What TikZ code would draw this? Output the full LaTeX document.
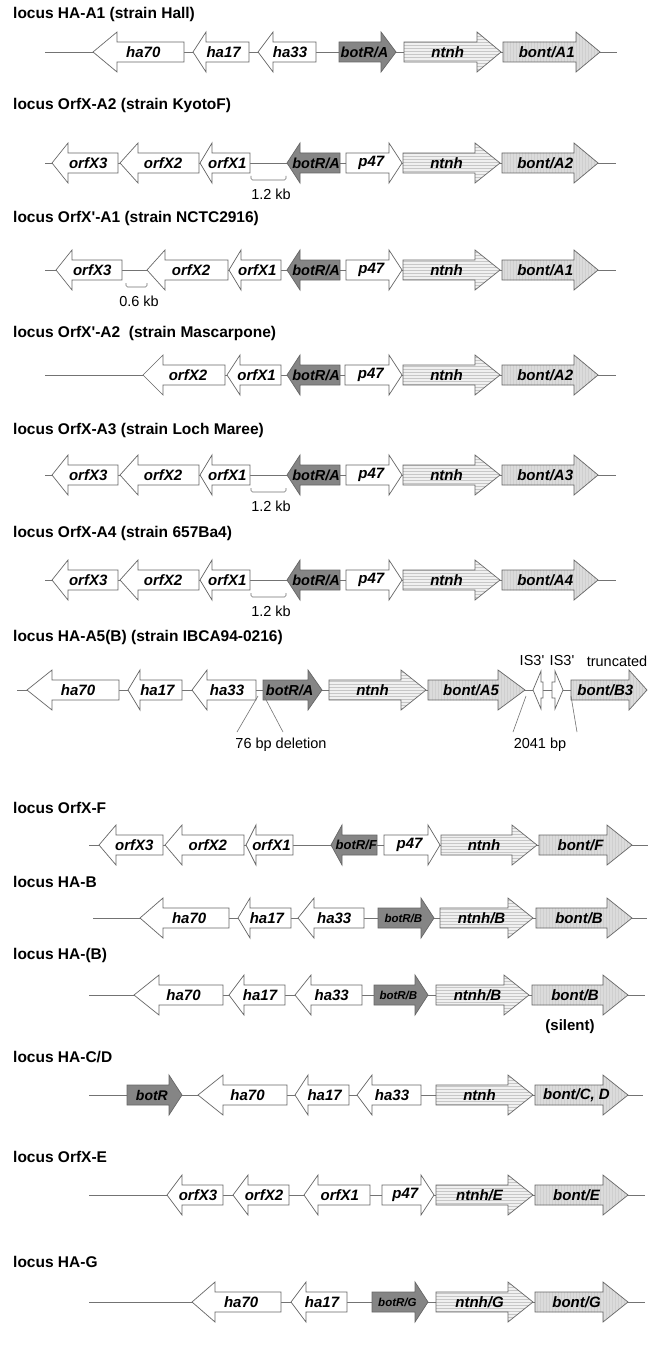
\documentclass[tikz,border=0pt]{standalone}
\usepackage{fontspec}
\setmainfont{Liberation Sans}
\usetikzlibrary{patterns}

\tikzset{
  gene/.style={draw=black!60, line width=0.7pt, fill=white},
  regul/.style={fill=black!48},
  ntnhbox/.style={preaction={fill=black!6}, pattern=horizontal lines, pattern color=black!22},
  bontbox/.style={preaction={fill=black!14}, pattern=vertical lines, pattern color=black!19},
  genelabel/.style={font=\fontsize{15}{18}\selectfont\bfseries\itshape, inner sep=0pt},
  locus/.style={font=\fontsize{15.5}{18}\selectfont\bfseries, anchor=west, inner sep=0pt},
  note/.style={font=\fontsize{14.5}{17}\selectfont, inner sep=0pt},
  backbone/.style={draw=black!55, line width=0.8pt},
}

% gene pointing right: name, x start, x tip, y, head length, style, label
\newcommand{\gener}[7]{%
  \draw[gene,#6] (#2,#4-10) -- ({#3-#5},#4-10) -- ({#3-#5},#4-20) -- (#3,#4)
    -- ({#3-#5},#4+20) -- ({#3-#5},#4+10) -- (#2,#4+10) -- cycle;
  \node[genelabel] (#1) at ({(#2+#3)/2-0.2*#5},#4) {#7};}
% gene pointing left: name, x tip, x end, y, head length, style, label
\newcommand{\genel}[7]{%
  \draw[gene,#6] (#3,#4-10) -- ({#2+#5},#4-10) -- ({#2+#5},#4-20) -- (#2,#4)
    -- ({#2+#5},#4+20) -- ({#2+#5},#4+10) -- (#3,#4+10) -- cycle;
  \node[genelabel] (#1) at ({(#2+#3)/2+0.2*#5},#4) {#7};}
\newcommand{\botsize}[1]{\fontsize{#1}{#1}\selectfont}
\newcommand{\gap}[3]{% x from, x to, y
  \draw[backbone, line width=0.6pt, rounded corners=1.5pt] (#1,#3+13) -- (#1,#3+17) -- (#2,#3+17) -- (#2,#3+13);}

\begin{document}
\begin{tikzpicture}[x=1pt,y=-1pt]
\fill[white] (0,0) rectangle (649,1351);
\useasboundingbox (0,0) rectangle (649,1351);

% titles
\node[locus] (t1) at (13,14) {locus HA-A1 (strain Hall)};
\node[locus] (t2) at (13,105) {locus OrfX-A2 (strain KyotoF)};
\node[locus] (t3) at (13,218) {locus OrfX\textquotesingle-A1 (strain NCTC2916)};
\node[locus] (t4) at (13,333) {locus OrfX\textquotesingle-A2~ (strain Mascarpone)};
\node[locus] (t5) at (13,430) {locus OrfX-A3 (strain Loch Maree)};
\node[locus] (t6) at (13,533) {locus OrfX-A4 (strain 657Ba4)};
\node[locus] (t7) at (13,637) {locus HA-A5(B) (strain IBCA94-0216)};
\node[locus] (t8) at (13,808) {locus OrfX-F};
\node[locus] (t9) at (13,882) {locus HA-B};
\node[locus] (t10) at (13,955) {locus HA-(B)};
\node[locus] (t11) at (13,1057) {locus HA-C/D};
\node[locus] (t12) at (13,1157) {locus OrfX-E};
\node[locus] (t13) at (13,1262) {locus HA-G};

% HA-A1
\coordinate (r1s) at (45,52); \coordinate (r1e) at (617,52);
\draw[backbone] (r1s) -- (r1e);
\genel{r1ha70}{93}{184}{52}{24}{}{ha70}
\genel{r1ha17}{193}{249}{52}{13}{}{ha17}
\genel{r1ha33}{258}{316}{52}{15}{}{ha33}
\gener{r1botR}{339}{396}{52}{15}{regul}{\botsize{14.5}botR/A}
\gener{r1ntnh}{404}{501}{52}{24}{ntnhbox}{ntnh}
\gener{r1bont}{503}{600}{52}{24}{bontbox}{bont/A1}

% OrfX-A2, OrfX-A3, OrfX-A4
\foreach \n/\y/\b in {2/163/A2, 5/475/A3, 6/580/A4}{
  \coordinate (r\n s) at (45,\y); \coordinate (r\n e) at (616,\y);
  \draw[backbone] (r\n s) -- (r\n e);
  \genel{r\n-orfX3}{52}{118}{\y}{16}{}{orfX3}
  \genel{r\n-orfX2}{120}{199}{\y}{18}{}{orfX2}
  \genel{r\n-orfX1}{200}{250}{\y}{12}{}{orfX1}
  \gap{251}{286}{\y}
  \node[note] (r\n-kb) at (271,\y+31) {1.2 kb};
  \genel{r\n-botR}{287}{340}{\y}{13}{regul}{\botsize{14.5}botR/A}
  \gener{r\n-p47}{346}{402}{\y}{13}{}{p47}
  \gener{r\n-ntnh}{403}{500}{\y}{25}{ntnhbox}{ntnh}
  \gener{r\n-bont}{502}{598}{\y}{24}{bontbox}{bont/\b}
}

% OrfX'-A1
\coordinate (r3s) at (45,270); \coordinate (r3e) at (616,270);
\draw[backbone] (r3s) -- (r3e);
\genel{r3orfX3}{56}{122}{270}{16}{}{orfX3}
\gap{126}{147}{270}
\node[note] (r3kb) at (139,301) {0.6 kb};
\genel{r3orfX2}{147}{228}{270}{18}{}{orfX2}
\genel{r3orfX1}{229}{281}{270}{12}{}{orfX1}
\genel{r3botR}{287}{340}{270}{13}{regul}{\botsize{14.5}botR/A}
\gener{r3p47}{346}{402}{270}{13}{}{p47}
\gener{r3ntnh}{403}{500}{270}{25}{ntnhbox}{ntnh}
\gener{r3bont}{502}{598}{270}{24}{bontbox}{bont/A1}

% OrfX'-A2
\coordinate (r4s) at (45,375); \coordinate (r4e) at (616,375);
\draw[backbone] (r4s) -- (r4e);
\genel{r4orfX2}{143}{225}{375}{20}{}{orfX2}
\genel{r4orfX1}{227}{281}{375}{13}{}{orfX1}
\genel{r4botR}{287}{340}{375}{13}{regul}{\botsize{14.5}botR/A}
\gener{r4p47}{345}{402}{375}{13}{}{p47}
\gener{r4ntnh}{403}{500}{375}{25}{ntnhbox}{ntnh}
\gener{r4bont}{502}{598}{375}{24}{bontbox}{bont/A2}

% HA-A5(B)
\coordinate (r7s) at (17,690); \coordinate (r7e) at (647,690);
\draw[backbone] (r7s) -- (r7e);
\genel{r7ha70}{27}{119}{690}{25}{}{ha70}
\genel{r7ha17}{128}{182}{690}{12}{}{ha17}
\genel{r7ha33}{192}{256}{690}{15}{}{ha33}
\gener{r7botR}{263}{322}{690}{14}{regul}{\botsize{14.5}botR/A}
\gener{r7ntnh}{329}{426}{690}{25}{ntnhbox}{ntnh}
\gener{r7bont}{428}{525}{690}{27}{bontbox}{bont/A5}
\draw[gene] (543,682) -- (541,682) -- (541,671) -- (533,690) -- (541,709) -- (541,698) -- (543,698) -- cycle;
\draw[gene] (552,682) -- (555,682) -- (555,671) -- (563,690) -- (555,709) -- (555,698) -- (552,698) -- cycle;
\gener{r7bontB}{571}{647}{690}{18}{bontbox}{bont/B3}
\node[note] (is1) at (532,661) {IS3\textquotesingle};
\node[note] (is2) at (562,661) {IS3\textquotesingle};
\node[note] (trunc) at (617,661) {truncated};
\node[note] (del) at (281,745) {76 bp deletion};
\node[note] (ins) at (540,745) {2041 bp};
\coordinate (d1) at (258,696); \coordinate (d2) at (264,696);
\coordinate (i1) at (526,696); \coordinate (i2) at (571,696);
\draw[backbone, line width=0.6pt] (d1) -- (237,732) (d2) -- (283,732);
\draw[backbone, line width=0.6pt] (i1) -- (513,732) (i2) -- (577,732);

% OrfX-F
\coordinate (r8s) at (89,845); \coordinate (r8e) at (648,845);
\draw[backbone] (r8s) -- (r8e);
\genel{r8orfX3}{99}{163}{845}{17}{}{orfX3}
\genel{r8orfX2}{165}{244}{845}{17}{}{orfX2}
\genel{r8orfX1}{246}{293}{845}{10}{}{orfX1}
\genel{r8botR}{331}{377}{845}{11}{regul}{\botsize{13}botR/F}
\gener{r8p47}{384}{440}{845}{12}{}{p47}
\gener{r8ntnh}{441}{537}{845}{25}{ntnhbox}{ntnh}
\gener{r8bont}{539}{632}{845}{25}{bontbox}{bont/F}

% HA-B
\coordinate (r9s) at (93,918); \coordinate (r9e) at (647,918);
\draw[backbone] (r9s) -- (r9e);
\genel{r9ha70}{140}{229}{918}{23}{}{ha70}
\genel{r9ha17}{238}{291}{918}{12}{}{ha17}
\genel{r9ha33}{298}{364}{918}{16}{}{ha33}
\gener{r9botR}{378}{434}{918}{13}{regul}{\botsize{11.5}botR/B}
\gener{r9ntnh}{440}{533}{918}{25}{ntnhbox}{ntnh/B}
\gener{r9bont}{536}{632}{918}{25}{bontbox}{bont/B}

% HA-(B)
\coordinate (r10s) at (89,995); \coordinate (r10e) at (645,995);
\draw[backbone] (r10s) -- (r10e);
\genel{r10ha70}{134}{223}{995}{25}{}{ha70}
\genel{r10ha17}{229}{285}{995}{15}{}{ha17}
\genel{r10ha33}{295}{362}{995}{16}{}{ha33}
\gener{r10botR}{374}{428}{995}{13}{regul}{\botsize{11.5}botR/B}
\gener{r10ntnh}{436}{529}{995}{25}{ntnhbox}{ntnh/B}
\gener{r10bont}{532}{628}{995}{25}{bontbox}{bont/B}
\node[note, font=\fontsize{15}{17}\selectfont\bfseries] (silent) at (570,1027) {(silent)};

% HA-C/D
\coordinate (r11s) at (89,1095); \coordinate (r11e) at (643,1095);
\draw[backbone] (r11s) -- (r11e);
\gener{r11botR}{127}{182}{1095}{13}{regul}{\botsize{14}botR}
\genel{r11ha70}{198}{287}{1095}{25}{}{ha70}
\genel{r11ha17}{295}{349}{1095}{13}{}{ha17}
\genel{r11ha33}{357}{421}{1095}{15}{}{ha33}
\gener{r11ntnh}{436}{533}{1095}{25}{ntnhbox}{ntnh}
\gener{r11bont}{535}{628}{1095}{25}{bontbox}{bont/C, D}

% OrfX-E
\coordinate (r12s) at (89,1195); \coordinate (r12e) at (645,1195);
\draw[backbone] (r12s) -- (r12e);
\genel{r12orfX3}{167}{223}{1195}{15}{}{orfX3}
\genel{r12orfX2}{233}{289}{1195}{15}{}{orfX2}
\genel{r12orfX1}{304}{370}{1195}{14}{}{orfX1}
\gener{r12p47}{382}{434}{1195}{13}{}{p47}
\gener{r12ntnh}{436}{533}{1195}{25}{ntnhbox}{ntnh/E}
\gener{r12bont}{535}{628}{1195}{25}{bontbox}{bont/E}

% HA-G
\coordinate (r13s) at (89,1302); \coordinate (r13e) at (645,1302);
\draw[backbone] (r13s) -- (r13e);
\genel{r13ha70}{192}{281}{1302}{23}{}{ha70}
\genel{r13ha17}{291}{347}{1302}{15}{}{ha17}
\gener{r13botR}{372}{428}{1302}{13}{regul}{\botsize{11.5}botR/G}
\gener{r13ntnh}{436}{533}{1302}{25}{ntnhbox}{ntnh/G}
\gener{r13bont}{535}{628}{1302}{25}{bontbox}{bont/G}
\end{tikzpicture}
\end{document}
